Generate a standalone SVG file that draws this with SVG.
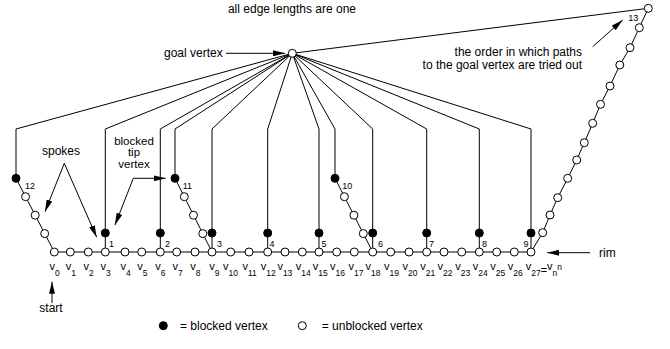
<svg xmlns="http://www.w3.org/2000/svg" width="670" height="349" viewBox="0 0 670 349">
  <defs>
    <style>
      text { font-family: "Liberation Sans", Arial, sans-serif; fill: #000; }
      .t { font-size: 12px; }
      .tt { font-size: 11.5px; }
      .n { font-size: 9px; }
      .vl { font-size: 11px; }
      .sub { font-size: 8.5px; }
      .edge { fill: none; stroke: #000; stroke-width: 1; }
      .open { fill: #fff; stroke: #000; stroke-width: 1; }
      .blk { fill: #000; stroke: #000; stroke-width: 1; }
      .ptr { fill: none; stroke: #000; stroke-width: 1; marker-end: url(#ah); }
    </style>
    <marker id="ah" markerUnits="userSpaceOnUse" markerWidth="12" markerHeight="6" refX="12" refY="3" orient="auto">
      <path d="M0,0 L12,3 L0,6 Z" fill="#000"/>
    </marker>
  </defs>

  <!-- annotations -->
  <g id="notes">
    <text class="t" x="292" y="13" text-anchor="middle">all edge lengths are one</text>
    <text class="t" x="164" y="57">goal vertex</text>
    <line class="ptr" x1="226" y1="53.3" x2="285" y2="53.3"/>
    <text class="t" x="582" y="55.5" text-anchor="end">the order in which paths</text>
    <text class="t" x="582" y="68.5" text-anchor="end">to the goal vertex are tried out</text>
    <line class="ptr" x1="592.7" y1="46.7" x2="622.7" y2="20"/>
    <text class="t" x="61" y="155" text-anchor="middle">spokes</text>
    <line class="ptr" x1="64.3" y1="163.3" x2="45" y2="211.7"/>
    <line class="ptr" x1="64.3" y1="163.3" x2="96.7" y2="237.3"/>
    <text class="tt" x="134" y="144.5" text-anchor="middle">blocked</text>
    <text class="tt" x="134" y="156" text-anchor="middle">tip</text>
    <text class="tt" x="134" y="167.5" text-anchor="middle">vertex</text>
    <line class="ptr" x1="133.3" y1="178.3" x2="165.7" y2="178.3"/>
    <line class="ptr" x1="133.3" y1="178.3" x2="115" y2="225"/>
    <line class="ptr" x1="590" y1="252.7" x2="547.3" y2="252.7"/>
    <text class="t" x="599" y="257">rim</text>
    <line class="ptr" x1="52" y1="303" x2="52" y2="281.7"/>
    <text class="t" x="51" y="311.5" text-anchor="middle">start</text>
  </g>

  <!-- connectors -->
  <g id="connectors">
    <!-- rim -->
    <line class="edge" x1="54.3" y1="252" x2="531" y2="252"/>
    <!-- tip edges -->
    <line class="edge" x1="105.3" y1="233" x2="105.3" y2="252"/>
    <line class="edge" x1="160.3" y1="233" x2="160.3" y2="252"/>
    <line class="edge" x1="212" y1="233" x2="212" y2="252"/>
    <line class="edge" x1="267.7" y1="233" x2="267.7" y2="252"/>
    <line class="edge" x1="319" y1="233" x2="319" y2="252"/>
    <line class="edge" x1="372.7" y1="233" x2="372.7" y2="252"/>
    <line class="edge" x1="426.7" y1="233" x2="426.7" y2="252"/>
    <line class="edge" x1="479.3" y1="233" x2="479.3" y2="252"/>
    <line class="edge" x1="531" y1="233" x2="531" y2="252"/>
    <!-- spokes -->
    <line class="edge" x1="16" y1="178.3" x2="54.3" y2="252"/>
    <line class="edge" x1="175" y1="178.3" x2="212" y2="252"/>
    <line class="edge" x1="335" y1="178.3" x2="372.7" y2="252"/>
    <polyline class="edge" points="531,252 542.7,232.7 550,215 557.7,197.7 567.7,178.3 576.7,160 584.3,142.7 592.7,123.3 600.5,104.3 610,86 619.8,65 630,47.7 639.3,27.7 648.3,8.3"/>
    <!-- paths to the goal vertex -->
    <polyline class="edge" points="292.3,53.3 16,129 16,178.3"/>
    <polyline class="edge" points="292.3,53.3 105.3,129 105.3,233"/>
    <polyline class="edge" points="292.3,53.3 160.3,129 160.3,233"/>
    <polyline class="edge" points="292.3,53.3 175,129 175,178.3"/>
    <polyline class="edge" points="292.3,53.3 212,129 212,233"/>
    <polyline class="edge" points="292.3,53.3 267.7,129 267.7,233"/>
    <polyline class="edge" points="292.3,53.3 319,129 319,233"/>
    <polyline class="edge" points="292.3,53.3 335,129 335,178.3"/>
    <polyline class="edge" points="292.3,53.3 372.7,129 372.7,233"/>
    <polyline class="edge" points="292.3,53.3 426.7,129 426.7,233"/>
    <polyline class="edge" points="292.3,53.3 479.3,129 479.3,233"/>
    <polyline class="edge" points="292.3,53.3 531,129 531,233"/>
    <line class="edge" x1="292.3" y1="53.3" x2="648.3" y2="8.3"/>
  </g>

  <!-- goal vertex -->
  <g id="goal"><circle class="open" cx="292.3" cy="53.3" r="4"/></g>

  <!-- rim vertices -->
  <g id="v0"><circle class="open" cx="54.3" cy="252" r="4"/><text class="vl" x="49.5" y="270">v<tspan class="sub" dy="6">0</tspan></text></g>
  <g id="v1"><circle class="open" cx="70.3" cy="252" r="4"/><text class="vl" x="65.7" y="270">v<tspan class="sub" dy="6">1</tspan></text></g>
  <g id="v2"><circle class="open" cx="88.3" cy="252" r="4"/><text class="vl" x="83.5" y="270">v<tspan class="sub" dy="6">2</tspan></text></g>
  <g id="v3"><circle class="open" cx="105.3" cy="252" r="4"/><text class="vl" x="100.5" y="270">v<tspan class="sub" dy="6">3</tspan></text></g>
  <g id="v4"><circle class="open" cx="125" cy="252" r="4"/><text class="vl" x="120.5" y="270">v<tspan class="sub" dy="6">4</tspan></text></g>
  <g id="v5"><circle class="open" cx="141.7" cy="252" r="4"/><text class="vl" x="137.2" y="270">v<tspan class="sub" dy="6">5</tspan></text></g>
  <g id="v6"><circle class="open" cx="160.3" cy="252" r="4"/><text class="vl" x="155.3" y="270">v<tspan class="sub" dy="6">6</tspan></text></g>
  <g id="v7"><circle class="open" cx="176.7" cy="252" r="4"/><text class="vl" x="172.5" y="270">v<tspan class="sub" dy="6">7</tspan></text></g>
  <g id="v8"><circle class="open" cx="195" cy="252" r="4"/><text class="vl" x="190.2" y="270">v<tspan class="sub" dy="6">8</tspan></text></g>
  <g id="v9"><circle class="open" cx="212" cy="252" r="4"/><text class="vl" x="209.3" y="270">v<tspan class="sub" dy="6">9</tspan></text></g>
  <g id="v10"><circle class="open" cx="230.7" cy="252" r="4"/><text class="vl" x="223" y="270">v<tspan class="sub" dy="6">10</tspan></text></g>
  <g id="v11"><circle class="open" cx="249" cy="252" r="4"/><text class="vl" x="242.4" y="270">v<tspan class="sub" dy="6">11</tspan></text></g>
  <g id="v12"><circle class="open" cx="267.7" cy="252" r="4"/><text class="vl" x="260.8" y="270">v<tspan class="sub" dy="6">12</tspan></text></g>
  <g id="v13"><circle class="open" cx="285" cy="252" r="4"/><text class="vl" x="277.4" y="270">v<tspan class="sub" dy="6">13</tspan></text></g>
  <g id="v14"><circle class="open" cx="302.3" cy="252" r="4"/><text class="vl" x="295.7" y="270">v<tspan class="sub" dy="6">14</tspan></text></g>
  <g id="v15"><circle class="open" cx="319" cy="252" r="4"/><text class="vl" x="312.7" y="270">v<tspan class="sub" dy="6">15</tspan></text></g>
  <g id="v16"><circle class="open" cx="336.7" cy="252" r="4"/><text class="vl" x="330" y="270">v<tspan class="sub" dy="6">16</tspan></text></g>
  <g id="v17"><circle class="open" cx="354.3" cy="252" r="4"/><text class="vl" x="348.5" y="270">v<tspan class="sub" dy="6">17</tspan></text></g>
  <g id="v18"><circle class="open" cx="372.7" cy="252" r="4"/><text class="vl" x="365.6" y="270">v<tspan class="sub" dy="6">18</tspan></text></g>
  <g id="v19"><circle class="open" cx="390.7" cy="252" r="4"/><text class="vl" x="384" y="270">v<tspan class="sub" dy="6">19</tspan></text></g>
  <g id="v20"><circle class="open" cx="409" cy="252" r="4"/><text class="vl" x="402.5" y="270">v<tspan class="sub" dy="6">20</tspan></text></g>
  <g id="v21"><circle class="open" cx="426.7" cy="252" r="4"/><text class="vl" x="420.2" y="270">v<tspan class="sub" dy="6">21</tspan></text></g>
  <g id="v22"><circle class="open" cx="444" cy="252" r="4"/><text class="vl" x="437.5" y="270">v<tspan class="sub" dy="6">22</tspan></text></g>
  <g id="v23"><circle class="open" cx="461.7" cy="252" r="4"/><text class="vl" x="455.2" y="270">v<tspan class="sub" dy="6">23</tspan></text></g>
  <g id="v24"><circle class="open" cx="479.3" cy="252" r="4"/><text class="vl" x="472.8" y="270">v<tspan class="sub" dy="6">24</tspan></text></g>
  <g id="v25"><circle class="open" cx="496.7" cy="252" r="4"/><text class="vl" x="490.2" y="270">v<tspan class="sub" dy="6">25</tspan></text></g>
  <g id="v26"><circle class="open" cx="514.3" cy="252" r="4"/><text class="vl" x="507.8" y="270">v<tspan class="sub" dy="6">26</tspan></text></g>
  <g id="v27"><circle class="open" cx="531" cy="252" r="4"/><text class="vl" x="525.7" y="270">v<tspan class="sub" dy="6">27</tspan><tspan dy="-2">=</tspan><tspan dy="-4">v</tspan><tspan class="sub" dy="6">n</tspan><tspan class="sub" dy="-6">n</tspan></text></g>

  <!-- blocked tip vertices, numbered in trial order -->
  <g id="tip1"><circle class="blk" cx="105.3" cy="233" r="4"/><text class="n" x="109" y="247">1</text></g>
  <g id="tip2"><circle class="blk" cx="160.3" cy="233" r="4"/><text class="n" x="165" y="247">2</text></g>
  <g id="tip3"><circle class="blk" cx="212" cy="233" r="4"/><text class="n" x="217" y="247">3</text></g>
  <g id="tip4"><circle class="blk" cx="267.7" cy="233" r="4"/><text class="n" x="269.5" y="247">4</text></g>
  <g id="tip5"><circle class="blk" cx="319" cy="233" r="4"/><text class="n" x="321.5" y="247">5</text></g>
  <g id="tip6"><circle class="blk" cx="372.7" cy="233" r="4"/><text class="n" x="378" y="247">6</text></g>
  <g id="tip7"><circle class="blk" cx="426.7" cy="233" r="4"/><text class="n" x="429" y="247">7</text></g>
  <g id="tip8"><circle class="blk" cx="479.3" cy="233" r="4"/><text class="n" x="482" y="247">8</text></g>
  <g id="tip9"><circle class="blk" cx="531" cy="233" r="4"/><text class="n" x="528.5" y="247" text-anchor="end">9</text></g>

  <!-- spoke 10 -->
  <g id="spoke10">
    <circle class="open" cx="344.4" cy="196.7" r="4"/>
    <circle class="open" cx="353.9" cy="215.2" r="4"/>
    <circle class="open" cx="363.3" cy="233.6" r="4"/>
    <circle class="blk" cx="335" cy="178.3" r="4"/>
    <text class="n" x="342.3" y="188.5">10</text>
  </g>
  <!-- spoke 11 -->
  <g id="spoke11">
    <circle class="open" cx="184.3" cy="196.7" r="4"/>
    <circle class="open" cx="193.5" cy="215.2" r="4"/>
    <circle class="open" cx="202.8" cy="233.6" r="4"/>
    <circle class="blk" cx="175" cy="178.3" r="4"/>
    <text class="n" x="182.7" y="188.5">11</text>
  </g>
  <!-- spoke 12 -->
  <g id="spoke12">
    <circle class="open" cx="25.6" cy="196.7" r="4"/>
    <circle class="open" cx="35.2" cy="215.2" r="4"/>
    <circle class="open" cx="44.7" cy="233.6" r="4"/>
    <circle class="blk" cx="16" cy="178.3" r="4"/>
    <text class="n" x="25" y="188.5">12</text>
  </g>
  <!-- spoke 13 -->
  <g id="spoke13">
    <circle class="open" cx="542.7" cy="232.7" r="4"/>
    <circle class="open" cx="550" cy="215" r="4"/>
    <circle class="open" cx="557.7" cy="197.7" r="4"/>
    <circle class="open" cx="567.7" cy="178.3" r="4"/>
    <circle class="open" cx="576.7" cy="160" r="4"/>
    <circle class="open" cx="584.3" cy="142.7" r="4"/>
    <circle class="open" cx="592.7" cy="123.3" r="4"/>
    <circle class="open" cx="600.5" cy="104.3" r="4"/>
    <circle class="open" cx="610" cy="86" r="4"/>
    <circle class="open" cx="619.8" cy="65" r="4"/>
    <circle class="open" cx="630" cy="47.7" r="4"/>
    <circle class="open" cx="639.3" cy="27.7" r="4"/>
    <circle class="open" cx="648.3" cy="8.3" r="4"/>
    <text class="n" x="628.3" y="21">13</text>
  </g>

  <!-- legend -->
  <g id="legend">
    <circle class="blk" cx="163.3" cy="325.7" r="4"/>
    <text class="t" x="180" y="330">= blocked vertex</text>
    <circle class="open" cx="302.3" cy="325.7" r="4"/>
    <text class="t" x="321.7" y="330">= unblocked vertex</text>
  </g>
</svg>
